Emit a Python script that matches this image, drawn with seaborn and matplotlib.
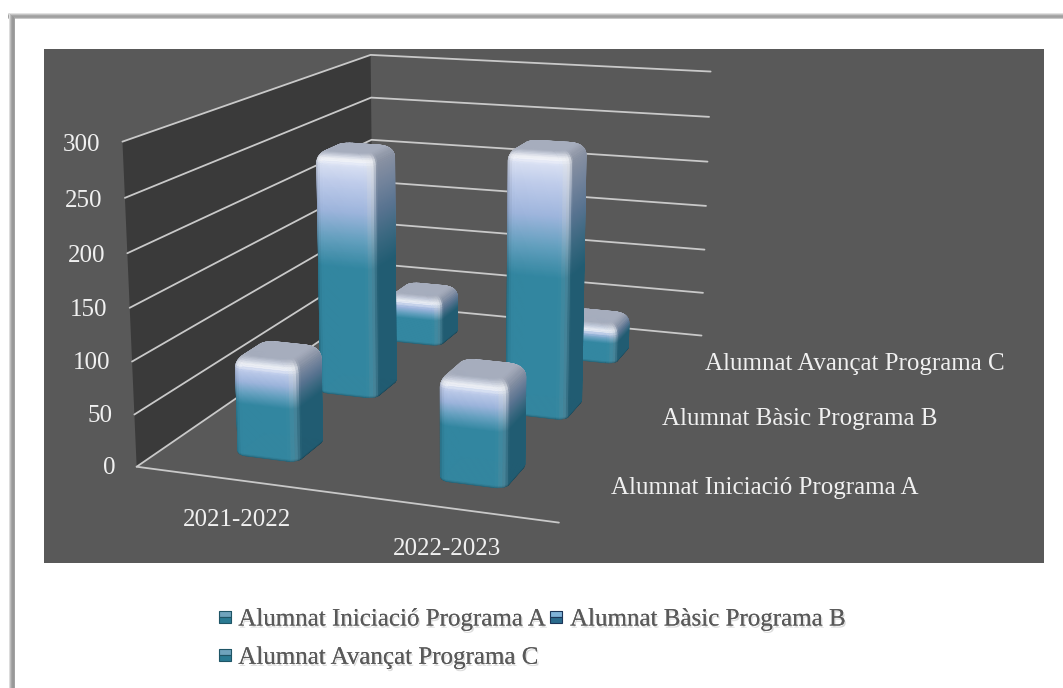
import numpy as np
import seaborn as sns
import matplotlib
matplotlib.use("Agg")
import matplotlib.pyplot as plt
import matplotlib.patheffects as pe
from matplotlib.lines import Line2D
from matplotlib.patches import Rectangle
from mpl_toolkits.mplot3d import proj3d
from mpl_toolkits.mplot3d.art3d import Poly3DCollection

# values
years = ["2021-2022", "2022-2023"]
series = ["Alumnat Iniciació Programa A", "Alumnat Bàsic Programa B", "Alumnat Avançat Programa C"]
alumnat_a = [95, 98]
alumnat_b = [250, 265]
alumnat_c = [54, 42]
z_ticks = [0, 50, 100, 150, 200, 250, 300]

W, H = 1063, 688
FONT = "Liberation Serif"
FS = 18
LIGHT = "#f0f0f0"
GRID = "#c9c9c9"

sns.set_theme(style="white")
plt.rcParams["font.family"] = [FONT, "DejaVu Serif"]

front_cmap = sns.blend_palette(["#e8ecf8", "#bccaea", "#9bb3dc", "#5f9dbd", "#2c839e"], as_cmap=True)
side_cmap = sns.blend_palette(["#8f95a4", "#74849c", "#587390", "#3a6880", "#215c72"], as_cmap=True)
LID = np.array(matplotlib.colors.to_rgb("#a6adbd"))
WHITE = np.ones(3)


def px_rect(x0, y0, x1, y1, color, zorder=0):
    return Rectangle((x0 / W, 1 - y1 / H), (x1 - x0) / W, (y1 - y0) / H, transform=fig.transFigure,
                     facecolor=color, edgecolor="none", zorder=zorder)


def bar_surface(ax, xc, yc, h, zorder, hx=0.16, hy=0.17, rx=0.05, ry=0.05, rz=12.0):
    # rounded square ring
    ang = np.linspace(0, np.pi / 2, 6)
    ox, oy, nx, ny = [], [], [], []
    for k, (sx, sy) in enumerate([(1, -1), (1, 1), (-1, 1), (-1, -1)]):
        a = ang + (k - 1) * np.pi / 2
        ox += list(sx * (hx - rx) + rx * np.cos(a))
        oy += list(sy * (hy - ry) + ry * np.sin(a))
        nx += list(np.cos(a))
        ny += list(np.sin(a))
    ox, oy, nx, ny = map(np.array, (ox + ox[:1], oy + oy[:1], nx + nx[:1], ny + ny[:1]))

    # vertical profile: bottom round, body, top bevel, lid
    zs, inset, nz = [], [], []
    for phi in np.linspace(-np.pi / 2, 0, 5)[1:]:
        zs.append(3 + 3 * np.sin(phi)); inset.append(0.012 * (1 - np.cos(phi))); nz.append(np.sin(phi))
    for z in np.linspace(3, h - rz, int(h))[1:]:
        zs.append(z); inset.append(0.0); nz.append(0.0)
    for phi in np.linspace(0, np.pi / 2, 11)[1:]:
        zs.append(h - rz + rz * np.sin(phi)); inset.append(rx * (1 - np.cos(phi))); nz.append(np.sin(phi))
    zs, inset, nz = np.array(zs), np.array(inset), np.array(nz)

    rows = len(zs) + 1
    X = np.zeros((rows, len(ox))); Y = X.copy(); Z = X.copy()
    NX = X.copy(); NY = X.copy(); NZ = X.copy()
    for i in range(len(zs)):
        X[i] = xc + np.sign(ox) * (np.abs(ox) - inset[i])
        Y[i] = yc + np.sign(oy) * (np.abs(oy) - inset[i])
        Z[i] = zs[i]
        c = np.sqrt(max(1 - nz[i] ** 2, 0))
        NX[i], NY[i], NZ[i] = nx * c, ny * c, nz[i]
    X[-1], Y[-1], Z[-1] = xc, yc, h
    NZ[-1] = 1

    def mid(A):
        return (A[:-1, :-1] + A[1:, :-1] + A[:-1, 1:] + A[1:, 1:]) / 4

    zm, nxm, nym, nzm = mid(Z), mid(NX), mid(NY), mid(NZ)
    t = np.clip((1 - zm / h) / 0.46, 0, 1)
    f = front_cmap(t)[..., :3]
    s = side_cmap(t)[..., :3]
    norm = np.sqrt(nxm ** 2 + nym ** 2) + 1e-9
    hxn, hyn = nxm / norm, nym / norm
    w = np.clip(hxn, 0, 1)[..., None] ** 2
    col = f * (1 - w) + s * w
    col = col * (1 - 0.25 * (np.clip(-hxn, 0, 1)[..., None] ** 2))
    corner = (4 * np.clip(hxn, 0, 1) ** 2 * np.clip(-hyn, 0, 1) ** 2)[..., None]
    col = col + (0.12 + 0.45 * (1 - t[..., None])) * corner * (WHITE - col)
    dark = np.clip(-nzm, 0, 1)[..., None]
    col = col * (1 - 0.35 * dark)
    up = np.clip(nzm, 0, 1)[..., None]
    glow = np.exp(-((up - 0.5) / 0.28) ** 2) * np.clip(-hyn, 0, 1)[..., None]
    col = col + 0.8 * glow * (WHITE - col)
    k = up ** 3
    col = col * (1 - k) + LID * k
    ax.plot_surface(X, Y, Z, facecolors=col, rstride=1, cstride=1, shade=False,
                    linewidth=0.5, antialiased=True, zorder=zorder)


def label(x, y, z, text, dx=0, dy=0, **kw):
    # text anchored on a 3D point, offset in pixels
    tx, ty, _ = proj3d.proj_transform(x, y, z, ax.get_proj())
    ax.annotate(text, (tx, ty), xycoords="data", xytext=(dx, -dy), textcoords="offset pixels",
                color=LIGHT, fontsize=FS, va="center", zorder=20, annotation_clip=False, **kw)


fig = plt.figure(figsize=(W / 100, H / 100), dpi=100, facecolor="white")

# page frame (soft grey edge along the top and the left)
top_ramp = ["#e2e2e2", "#c4c4c4", "#a8a8a8", "#a0a0a0", "#a6a6a6", "#c8c8c8"]
left_ramp = ["#dcdcdc", "#bdbdbd", "#a6a6a6", "#9a9a9a", "#989898", "#a2a2a2"]
for i, c in enumerate(top_ramp):
    fig.add_artist(px_rect(8, 13 + i, W, 14 + i, c))
for i, c in enumerate(left_ramp):
    fig.add_artist(px_rect(9 + i, 13 + i, 10 + i, H, c))
fig.add_artist(px_rect(44, 49, 1044, 563, "#595959"))

ax = fig.add_axes([0, 0, 1, 1], projection="3d", computed_zorder=False)
ax.patch.set_visible(False)
ax.set_axis_off()
ax.set_xticks([]); ax.set_yticks([]); ax.set_zticks([])
ax.set_xlim(0, 2, view_margin=0)
ax.set_ylim(0, 3, view_margin=0)
ax.set_zlim(0, 300, view_margin=0)
ax.set_box_aspect((1, 1.4603, 0.7525))
ax.view_init(13.954, -70.656)
ax.set_proj_type("persp", focal_length=0.45585)

# camera scale and centre, in pixels
scale, cx, cy = 4025.08, 449.65, 251.21
p = ax.transLimits.transform([[0, 0], [1, 1]])
box_w = scale / (p[1, 0] - p[0, 0])
box_h = scale / (p[1, 1] - p[0, 1])
ax.set_position([(cx - p[0, 0] * box_w) / W, (H - cy - p[0, 1] * box_h) / H, box_w / W, box_h / H])

ax.add_collection3d(Poly3DCollection([[(0, 0, 0), (0, 3, 0), (0, 3, 300), (0, 0, 300)]],
                                     facecolor="#3a3a3a", edgecolor="none", zorder=1))
for v in z_ticks:
    ax.plot([0, 0, 2], [0, 3, 3], [v, v, v], color=GRID, lw=1.3, zorder=2)
    label(-0.112, 0, v - 4, str(v), ha="right")
ax.plot([0, 2], [0, 0], [0, 0], color=GRID, lw=1.3, zorder=2)

# back row first so that the nearer bars cover it
order = 3
for row, vals in reversed(list(enumerate([alumnat_a, alumnat_b, alumnat_c]))):
    for col, v in enumerate(vals):
        bar_surface(ax, col + 0.515, row + 0.46, v, order)
        order += 1

ax.set_xlim(0, 2, view_margin=0)
ax.set_ylim(0, 3, view_margin=0)
ax.set_zlim(0, 300, view_margin=0)

year_at = [(0.7, -0.41, -1, 2), (1.6, -0.36, 6, 8)]
for (x, y, dx, dy), text in zip(year_at, years):
    label(x, y, 0, text, dx, dy, ha="center")
series_shift = [(0, 0), (1, 0), (4, 1)]
for row, text in enumerate(series):
    label(2.1, row + 0.5, -2, text, *series_shift[row], ha="left")


# filling is by column, so this order gives A, B on the first line and C on the second
def handle(edge, face, alt):
    return Line2D([], [], ls="", marker="s", ms=9, mec=edge, mew=0.8, fillstyle="top",
                  mfc=face, markerfacecoloralt=alt)


handles = [handle("#1f5566", "#6fa3bc", "#2a7a92"), handle("#1f5566", "#6fa3bc", "#2a7a92"),
           handle("#1b3558", "#7fb2d8", "#2a6a8c")]
leg = fig.legend(handles, [series[0], series[2], series[1]], ncol=2, frameon=False, loc="upper left",
                 bbox_to_anchor=(212 / W, 1 - 608 / H), fontsize=FS, labelcolor="#595959",
                 handlelength=1.0, handletextpad=0.05, columnspacing=-0.08, labelspacing=0.63,
                 borderpad=0, borderaxespad=0)
for tx in leg.get_texts():
    tx.set_path_effects([pe.withSimplePatchShadow(offset=(1, -1.5), shadow_rgbFace="#b0b0b0", alpha=0.45), pe.Normal()])

fig.savefig("out.png", dpi=100)
